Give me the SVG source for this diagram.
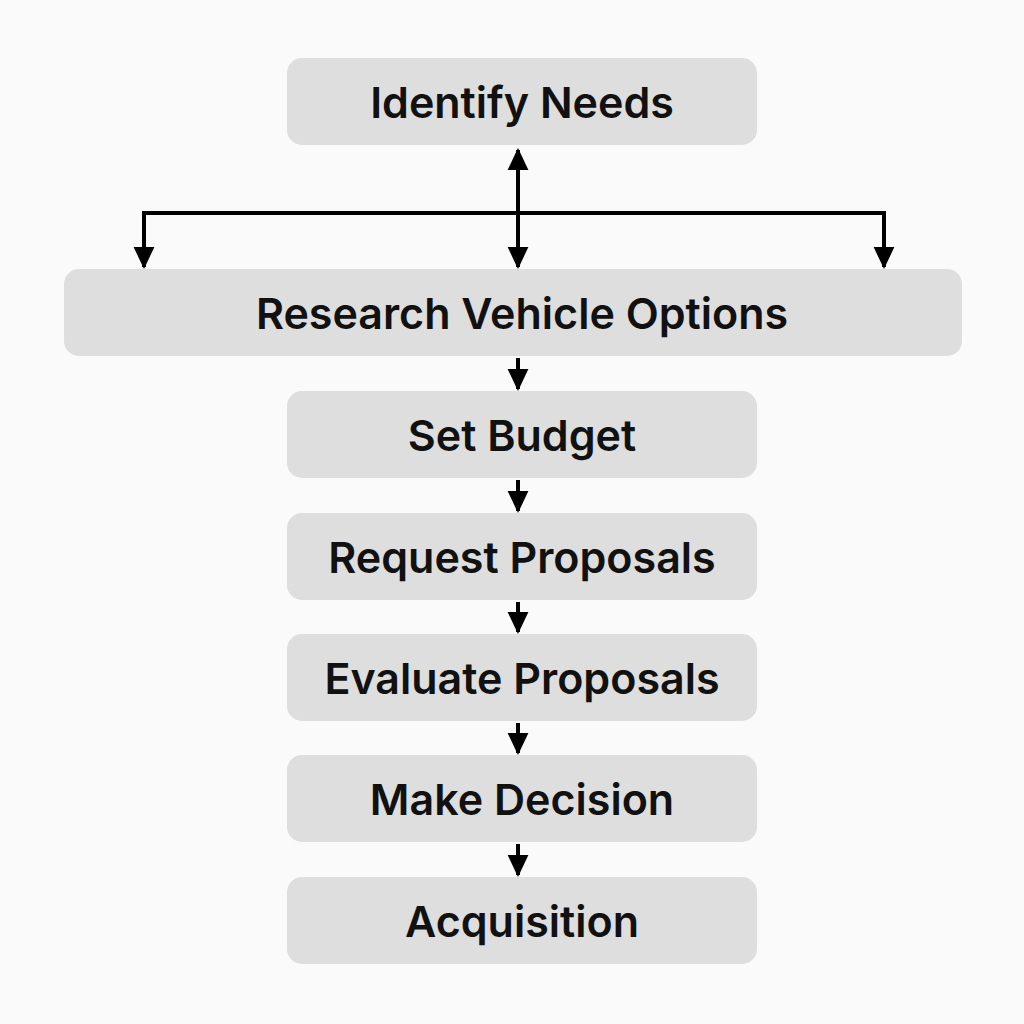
<svg xmlns="http://www.w3.org/2000/svg" width="1024" height="1024" viewBox="0 0 1024 1024">
<style>
.box{fill:#dedede}
.t{font-family:Inter,"Liberation Sans",sans-serif;font-weight:600;font-size:43px;fill:#111;text-anchor:middle;dominant-baseline:central}
.c{stroke:#000;stroke-width:4;fill:none}
</style>
<defs><marker id="a" markerWidth="6" markerHeight="6" refX="5" refY="3" orient="auto" markerUnits="strokeWidth"><path d="M0,0.4 L5.5,3 L0,5.6 Z" fill="#000"/></marker></defs>
<rect width="1024" height="1024" fill="#fafafa"/>
<g id="n1"><rect class="box" x="287" y="58" width="470" height="87" rx="15"/><text class="t" x="522" y="102">Identify Needs</text></g>
<g id="n2"><rect class="box" x="64" y="269" width="898" height="87" rx="15"/><text class="t" x="522" y="313">Research Vehicle Options</text></g>
<g id="n3"><rect class="box" x="287" y="391" width="470" height="87" rx="15"/><text class="t" x="522" y="435">Set Budget</text></g>
<g id="n4"><rect class="box" x="287" y="513" width="470" height="87" rx="15"/><text class="t" x="522" y="557">Request Proposals</text></g>
<g id="n5"><rect class="box" x="287" y="634" width="470" height="87" rx="15"/><text class="t" x="522" y="678">Evaluate Proposals</text></g>
<g id="n6"><rect class="box" x="287" y="755" width="470" height="87" rx="15"/><text class="t" x="522" y="799">Make Decision</text></g>
<g id="n7"><rect class="box" x="287" y="877" width="470" height="87" rx="15"/><text class="t" x="522" y="921">Acquisition</text></g>
<g id="connectors">
<path class="c" d="M518,200 V150" marker-end="url(#a)"/>
<path class="c" d="M518,200 V267" marker-end="url(#a)"/>
<path class="c" d="M144,213 H884 V267" marker-end="url(#a)"/>
<path class="c" d="M144,211 V267" marker-end="url(#a)"/>
<path class="c" d="M518,358 V389" marker-end="url(#a)"/>
<path class="c" d="M518,480 V511" marker-end="url(#a)"/>
<path class="c" d="M518,602 V632" marker-end="url(#a)"/>
<path class="c" d="M518,723 V753" marker-end="url(#a)"/>
<path class="c" d="M518,844 V875" marker-end="url(#a)"/>
</g>
</svg>
